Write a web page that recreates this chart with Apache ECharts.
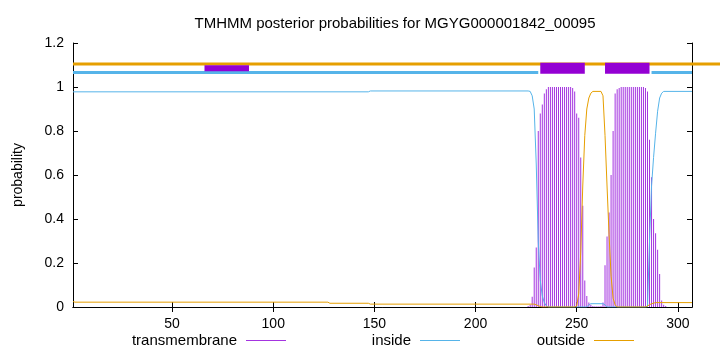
<!DOCTYPE html>
<html><head><meta charset="utf-8">
<script src="https://cdn.jsdelivr.net/npm/echarts@6/dist/echarts.min.js"></script>
<style>html,body{margin:0;padding:0;background:#fff}#c{width:720px;height:352px}</style>
</head><body><div id="c"></div>
<script>
const titleText = 'TMHMM posterior probabilities for MGYG000001842_00095';
const yAxisName = 'probability';
const seriesNames = ['transmembrane', 'inside', 'outside'];
const xTicks = [50, 100, 150, 200, 250, 300];
const seqStart = 1;
const seqEnd = 307;

// transmembrane posterior, one value per residue starting at tmFirstResidue
const tmFirstResidue = 226;
const tmProb = [0.005,0.01,0.047,0.18,0.27,0.8,0.88,0.92,0.97,0.99,
  1,1,1,1,1,1,1,1,1,1,1,1,
  0.995,0.98,0.88,0.86,0.68,0.46,0.12,0.05,0.02,0.01,
  0.005,0.003,0.003,0.003,0.005,0.02,
  0.19,0.32,0.43,0.6,0.8,0.97,0.99,0.995,
  1,1,1,1,1,1,1,1,1,1,1,1,
  0.995,0.98,0.76,0.59,0.4,0.335,0.26,0.15,0.03,0.01,0.005];

// inside posterior [residue, probability]
const insideProb = [[1,0.978],[147,0.978],[148,0.982],[226,0.982],[227,0.98],[228,0.96],[229,0.9],
  [230,0.65],[231,0.3],[232,0.12],[233,0.05],[234,0.02],[235,0.005],[236,0],[255,0],[256,0.01],
  [257,0.015],[263,0.015],[264,0.01],[265,0],[285,0],[286,0.3],[287,0.55],[288,0.68],[289,0.79],
  [290,0.89],[291,0.95],[292,0.972],[293,0.98],[307,0.98]];

// outside posterior [residue, probability]
const outsideProb = [[1,0.025],[2,0.022],[127,0.022],[128,0.017],[147,0.017],[148,0.013],[229,0.013],
  [230,0.01],[231,0.006],[232,0.002],[233,0],[249,0],[250,0.005],[251,0.06],[252,0.25],[253,0.55],
  [254,0.78],[255,0.9],[256,0.95],[257,0.972],[258,0.98],[262,0.98],[263,0.96],[264,0.78],[265,0.55],
  [266,0.33],[267,0.14],[268,0.04],[269,0.01],[270,0],[284,0],[285,0.005],[286,0.01],[287,0.015],
  [289,0.02],[307,0.02]];

// predicted topology segments [start, end]
const tmRegions = [[232,254],[264,286]];
const tmWeakRegions = [[66,88]];
const insideRegions = [[1,231],[287,307]];
const outsideRegions = [[1,321]];

const colTM = '#9400d3', colTMbar = '#a434e0', colIn = '#56b4e9', colOut = '#e69f00';
const font = '"Liberation Sans", Arial, Helvetica, sans-serif';

function segRender(level, thickness, color) {
  return function (params, api) {
    const a = api.coord([api.value(0), level]);
    const b = api.coord([api.value(1), level]);
    return {type: 'rect', shape: {x: a[0], y: a[1] - thickness / 2, width: b[0] - a[0], height: thickness},
      style: {fill: color}};
  };
}

const chart = echarts.init(document.getElementById('c'), null, {renderer: 'canvas'});
const axisCommon = {
  axisLine: {show: true, lineStyle: {color: '#000', width: 1}},
  splitLine: {show: false}
};
const legendBase = {orient: 'horizontal', top: 333, padding: 0, align: 'right', icon: 'rect', itemWidth: 40, itemHeight: 1,
  textStyle: {fontFamily: font, fontSize: 15, color: '#000', padding: [0, 4, 0, 0]}};

chart.setOption({
  animation: false,
  backgroundColor: '#fff',
  title: {text: titleText, left: 390, top: 11, textAlign: 'center',
    textStyle: {fontFamily: font, fontSize: 15, fontWeight: 'normal', color: '#000'}},
  grid: {left: 73, right: 28, top: 43, bottom: 45},
  legend: [
    Object.assign({}, legendBase, {data: [seriesNames[0]], right: 720 - 286}),
    Object.assign({}, legendBase, {data: [seriesNames[1]], right: 720 - 460}),
    Object.assign({}, legendBase, {data: [seriesNames[2]], right: 720 - 634})
  ],
  xAxis: [
    Object.assign({}, axisCommon, {type: 'value', min: seqStart, max: seqEnd, position: 'bottom',
      axisTick: {show: true, inside: true, length: 5, customValues: xTicks, lineStyle: {color: '#000'}},
      axisLabel: {show: true, customValues: xTicks, margin: 10, fontFamily: font, fontSize: 14, color: '#000'}}),
    Object.assign({}, axisCommon, {type: 'value', min: seqStart, max: seqEnd, position: 'top',
      axisTick: {show: true, inside: true, length: 5, customValues: xTicks, lineStyle: {color: '#000'}},
      axisLabel: {show: false}})
  ],
  yAxis: [
    Object.assign({}, axisCommon, {type: 'value', min: 0, max: 1.2, interval: 0.2, position: 'left',
      name: yAxisName, nameLocation: 'middle', nameRotate: 90, nameGap: 48,
      nameTextStyle: {fontFamily: font, fontSize: 14, color: '#000'},
      axisTick: {show: true, inside: true, length: 5, lineStyle: {color: '#000'}},
      axisLabel: {show: true, margin: 9, fontFamily: font, fontSize: 14, color: '#000'}}),
    Object.assign({}, axisCommon, {type: 'value', min: 0, max: 1.2, interval: 0.2, position: 'right',
      axisTick: {show: true, inside: true, length: 5, lineStyle: {color: '#000'}},
      axisLabel: {show: false}})
  ],
  series: [
    {name: seriesNames[0], type: 'bar', barWidth: 1, itemStyle: {color: colTMbar}, z: 2,
      data: tmProb.map((p, i) => [tmFirstResidue + i, p])},
    {name: seriesNames[1], type: 'line', showSymbol: false, lineStyle: {color: colIn, width: 1}, itemStyle: {color: colIn}, z: 3,
      data: insideProb},
    {name: seriesNames[2], type: 'line', showSymbol: false, lineStyle: {color: colOut, width: 1}, itemStyle: {color: colOut}, z: 4,
      data: outsideProb},
    {name: 'outsideTop', type: 'custom', renderItem: segRender(1.105, 3, colOut), encode: {x: [0, 1]}, clip: false, z: 5,
      data: outsideRegions},
    {name: 'insideTop', type: 'custom', renderItem: segRender(1.066, 3, colIn), encode: {x: [0, 1]}, clip: false, z: 5,
      data: insideRegions},
    {name: 'tmTop', type: 'custom', renderItem: segRender(1.085, 11, colTM), encode: {x: [0, 1]}, clip: false, z: 6,
      data: tmRegions},
    {name: 'tmWeakTop', type: 'custom', renderItem: segRender(1.085, 6, colTM), encode: {x: [0, 1]}, clip: false, z: 6,
      data: tmWeakRegions}
  ]
});
</script></body></html>
